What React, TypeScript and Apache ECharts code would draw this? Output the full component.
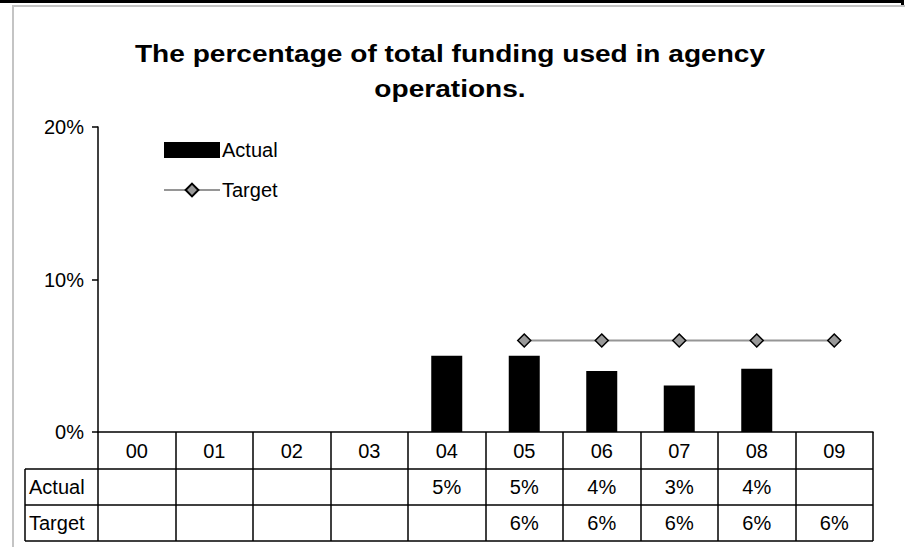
import React, { useEffect, useRef } from "react";
import * as echarts from "echarts";

const categories = ["00", "01", "02", "03", "04", "05", "06", "07", "08", "09"];
const actualValues: (number | null)[] = [null, null, null, null, 5.0, 5.0, 4.0, 3.05, 4.15, null];
const targetValues: (number | null)[] = [null, null, null, null, null, 6, 6, 6, 6, 6];
const yTicks = { min: 0, max: 20, interval: 10 };
const titleText = "The percentage of total funding used in agency\noperations.";

const FONT = "'Liberation Sans', Arial, sans-serif";
const fmtPct = (v: number | null) => (v == null ? "" : `${Math.round(v)}%`);

export default function App() {
  const ref = useRef<HTMLDivElement>(null);
  useEffect(() => {
    if (!ref.current) return;
    const chart = echarts.init(ref.current, undefined, { renderer: "svg" });
    const black = "#000";
    const rowLine = (y: number) => ({
      type: "line",
      shape: { x1: 25, y1: y, x2: 873, y2: y },
      style: { stroke: black, lineWidth: 1.5 },
    });
    chart.setOption({
      animation: false,
      backgroundColor: "#fff",
      textStyle: { fontFamily: FONT },
      legend: {
        orient: "vertical",
        left: 163,
        top: 140,
        padding: 0,
        itemWidth: 56,
        itemHeight: 16,
        itemGap: 20,
        textStyle: { fontFamily: FONT, fontSize: 20, color: black, padding: [0, 0, 0, -3] },
        data: [
          { name: "Actual", icon: "rect" },
          { name: "Target" },
        ],
      },
      grid: { left: 98, right: 33, top: 127, bottom: 115, containLabel: false },
      xAxis: [
        {
          type: "category",
          data: categories,
          position: "bottom",
          axisLine: { show: true, lineStyle: { color: black, width: 1.5 } },
          axisTick: { show: true, interval: 0, length: 109, lineStyle: { color: black, width: 1.5 } },
          axisLabel: { interval: 0, fontSize: 20, color: black, fontFamily: FONT, margin: 19, verticalAlign: "middle" },
          splitLine: { show: false },
        },
        {
          type: "category",
          data: categories,
          position: "bottom",
          axisLine: { show: false },
          axisTick: { show: false },
          axisLabel: {
            interval: 0,
            fontSize: 20,
            color: black,
            fontFamily: FONT,
            margin: 55,
            verticalAlign: "middle",
            formatter: (_v: string, i: number) => fmtPct(actualValues[i]),
          },
        },
        {
          type: "category",
          data: categories,
          position: "bottom",
          axisLine: { show: false },
          axisTick: { show: false },
          axisLabel: {
            interval: 0,
            fontSize: 20,
            color: black,
            fontFamily: FONT,
            margin: 91,
            verticalAlign: "middle",
            formatter: (_v: string, i: number) => fmtPct(targetValues[i]),
          },
        },
      ],
      yAxis: {
        type: "value",
        min: yTicks.min,
        max: yTicks.max,
        interval: yTicks.interval,
        axisLine: { show: true, lineStyle: { color: black, width: 1.5 } },
        axisTick: { show: true, length: 6, lineStyle: { color: black, width: 1.5 } },
        axisLabel: { formatter: "{value}%", fontSize: 20, color: black, fontFamily: FONT, margin: 14 },
        splitLine: { show: false },
      },
      series: [
        {
          name: "Actual",
          type: "bar",
          xAxisIndex: 0,
          data: actualValues,
          barWidth: "40%",
          itemStyle: { color: black },
        },
        {
          name: "Target",
          type: "line",
          xAxisIndex: 0,
          data: targetValues,
          symbol: "diamond",
          symbolSize: 13,
          showSymbol: true,
          lineStyle: { color: "#969696", width: 2 },
          itemStyle: { color: "#999999", borderColor: black, borderWidth: 1.5 },
        },
      ],
      graphic: [
        { type: "rect", shape: { x: 0, y: 0, width: 904, height: 3 }, style: { fill: black } },
        { type: "rect", shape: { x: 901, y: 0, width: 3, height: 5 }, style: { fill: black } },
        { type: "rect", shape: { x: 12, y: 5, width: 893, height: 2 }, style: { fill: "#c4c4c4" } },
        { type: "rect", shape: { x: 12, y: 5, width: 2, height: 542 }, style: { fill: "#c4c4c4" } },
        {
          type: "text",
          x: 450,
          y: 36,
          scaleX: 1.17,
          style: {
            text: titleText,
            fontFamily: FONT,
            fontSize: 24,
            fontWeight: "bold",
            fill: black,
            align: "center",
            lineHeight: 35,
          },
        },
        rowLine(469),
        rowLine(505),
        rowLine(541),
        {
          type: "line",
          shape: { x1: 25, y1: 469, x2: 25, y2: 541 },
          style: { stroke: black, lineWidth: 1.5 },
        },
        {
          type: "text",
          x: 29,
          y: 487,
          style: { text: "Actual", fontFamily: FONT, fontSize: 20, fill: black, verticalAlign: "middle" },
        },
        {
          type: "text",
          x: 29,
          y: 523,
          style: { text: "Target", fontFamily: FONT, fontSize: 20, fill: black, verticalAlign: "middle" },
        },
      ],
    });
    return () => chart.dispose();
  }, []);
  return (
    <div
      ref={ref}
      style={{ position: "absolute", left: 0, top: 0, width: 906, height: 547 }}
    />
  );
}
